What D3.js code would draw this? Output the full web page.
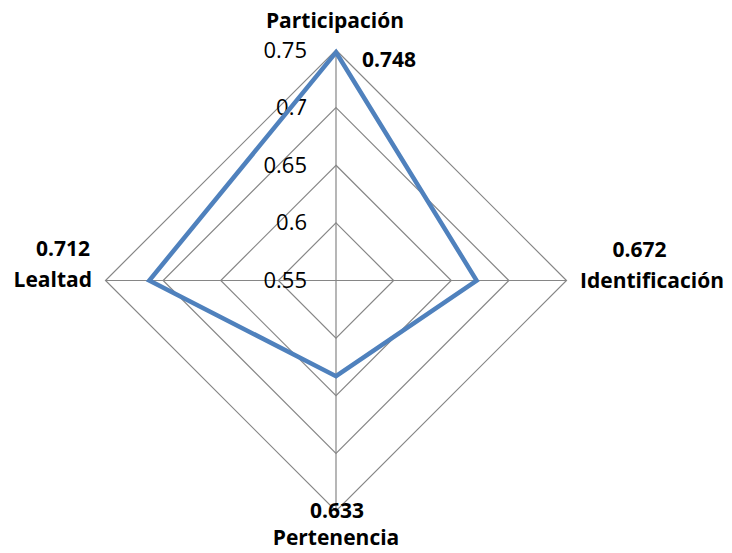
<!DOCTYPE html>
<html>
<head>
<meta charset="utf-8">
<script src="https://cdn.jsdelivr.net/npm/d3@7/dist/d3.min.js"></script>
<style>
  html, body { margin: 0; padding: 0; background: #fff; }
  svg { display: block; font-family: "Open Sans", Lato, sans-serif; }
</style>
</head>
<body>
<svg id="chart" width="732" height="553"></svg>
<script>
// Radar chart data
const categories = ["Participación", "Identificación", "Pertenencia", "Lealtad"];
const values = [0.748, 0.672, 0.633, 0.712];
const ticks = [0.55, 0.6, 0.65, 0.7, 0.75];
const tickLabels = ["0.55", "0.6", "0.65", "0.7", "0.75"];

const svg = d3.select("#chart");
const cx = 336, cy = 280.5, radius = 230.5;

const r = d3.scaleLinear().domain([0.55, 0.75]).range([0, radius]);
const angle = d3.scalePoint().domain(categories).range([0, 2 * Math.PI * 3 / 4]);

const pt = (cat, v) => {
  const a = angle(cat);
  return [cx + r(v) * Math.sin(a), cy - r(v) * Math.cos(a)];
};

const g = svg.append("g");

// grid polygons
ticks.slice(1).forEach(t => {
  g.append("path")
    .attr("d", d3.line()(categories.map(c => pt(c, t))) + "Z")
    .attr("fill", "none")
    .attr("stroke", "#868686")
    .attr("stroke-width", 1.2);
});

// spokes
categories.forEach(c => {
  const [x, y] = pt(c, 0.75);
  g.append("line")
    .attr("x1", cx).attr("y1", cy).attr("x2", x).attr("y2", y)
    .attr("stroke", "#868686").attr("stroke-width", 1.2);
});

// tick labels along the top spoke
ticks.forEach((t, i) => {
  const [x, y] = pt(categories[0], t);
  g.append("text")
    .attr("x", x - 29).attr("y", y + 7.5)
    .attr("text-anchor", "end")
    .attr("font-size", 22)
    .attr("fill", "#000")
    .text(tickLabels[i]);
});

// data series
g.append("path")
  .attr("d", d3.line()(categories.map((c, i) => pt(c, values[i]))) + "Z")
  .attr("fill", "none")
  .attr("stroke", "#4F81BD")
  .attr("stroke-width", 4.5)
  .attr("stroke-linejoin", "miter");

// category names and value labels
const addText = (x, y, txt, anchor) => g.append("text")
  .attr("x", x).attr("y", y)
  .attr("text-anchor", anchor)
  .attr("font-size", 21)
  .attr("font-weight", "bold")
  .attr("fill", "#000")
  .text(txt);

const fmt = d3.format(".3f");

// Participación (top)
{
  const [x] = pt(categories[0], 0.75);
  addText(x - 1, 28, categories[0], "middle");
  const [vx, vy] = pt(categories[0], values[0]);
  addText(vx + 26, vy + 15, fmt(values[0]), "start");
}
// Identificación (right)
{
  const [x, y] = pt(categories[1], 0.75);
  addText(x + 85.5, y + 7.5, categories[1], "middle");
  addText(x + 73, y - 24, fmt(values[1]), "middle");
}
// Pertenencia (bottom)
{
  const [x, y] = pt(categories[2], 0.75);
  addText(x + 1, y + 7, fmt(values[2]), "middle");
  addText(x, y + 34, categories[2], "middle");
}
// Lealtad (left)
{
  const [x, y] = pt(categories[3], 0.75);
  addText(x - 13.5, y + 6, categories[3], "end");
  addText(x - 15.5, y - 24.5, fmt(values[3]), "end");
}
</script>
</body>
</html>
